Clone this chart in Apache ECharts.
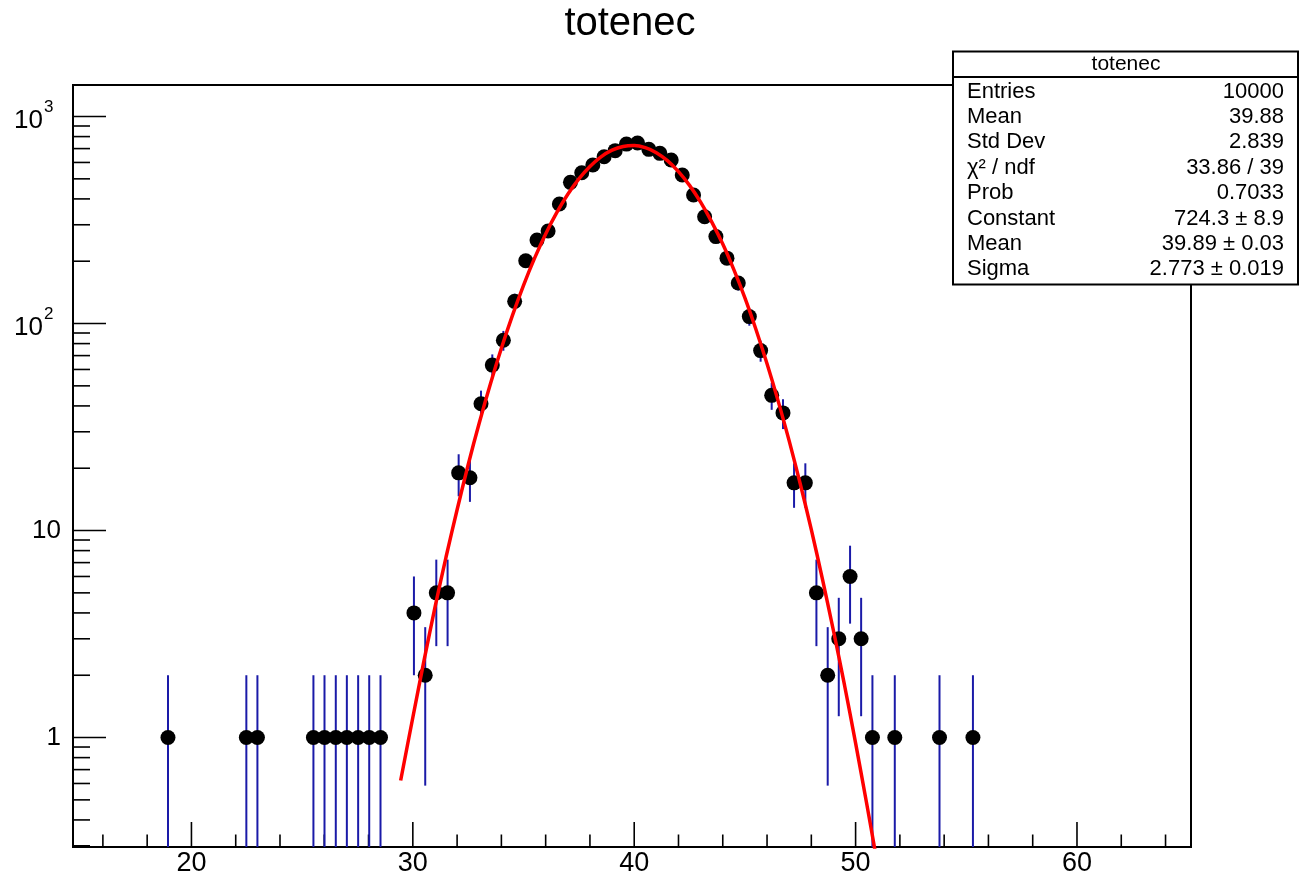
<!DOCTYPE html>
<html><head><meta charset="utf-8">
<script src="https://cdn.jsdelivr.net/npm/echarts@6/dist/echarts.min.js"></script>
<style>html,body{margin:0;padding:0;background:#fff}#c{width:1301px;height:889px}</style>
</head><body><div id="c"></div>
<script>
// ---- axis ranges ----
const xMin = 14.65, xMax = 65.15;
const yMin = 0.296, yMax = 1420;

// ---- histogram (bin centres, counts) ----
const binCenters = [18.94, 22.48, 22.98, 25.51, 26.01, 26.52, 27.02, 27.53, 28.03, 28.54,
  30.05, 30.56, 31.06, 31.57, 32.07, 32.58, 33.08, 33.59, 34.09, 34.60,
  35.10, 35.61, 36.11, 36.62, 37.12, 37.63, 38.13, 38.64, 39.14, 39.65,
  40.15, 40.66, 41.16, 41.67, 42.17, 42.68, 43.18, 43.69, 44.19, 44.70,
  45.20, 45.71, 46.21, 46.72, 47.22, 47.73, 48.23, 48.74, 49.24, 49.75,
  50.25, 50.76, 51.77, 53.79, 55.30];
const counts = [1, 1, 1, 1, 1, 1, 1, 1, 1, 1,
  4, 2, 5, 5, 19, 18, 41, 63, 83, 128,
  201, 253, 280, 378, 481, 535, 583, 639, 684, 736,
  745, 694, 664, 617, 522, 418, 328, 263, 207, 157,
  108, 74, 45, 37, 17, 17, 5, 2, 3, 6,
  3, 1, 1, 1, 1];

// ---- fitted gaussian curve ----
const fitX = [29.45, 30, 30.5, 31, 31.5, 32, 32.5, 33, 33.5, 34, 34.5, 35, 35.5, 36, 36.5, 37, 37.5, 38, 38.5, 39, 39.5,
  40, 40.5, 41, 41.5, 42, 42.5, 43, 43.5, 44, 44.5, 45, 45.5, 46, 46.5, 47, 47.5, 48, 48.5, 49, 49.5, 50, 50.5, 51];
const fitY = [0.62, 1.25, 2.34, 4.25, 7.45, 12.6, 20.8, 33.1, 50.9, 75.9, 109.5, 153, 207, 271, 343, 421, 500, 574, 639, 688, 717,
  724, 707, 669, 612, 542, 465, 386, 310, 242, 182, 133, 93.6, 63.9, 42.3, 27.1, 16.8, 10.1, 5.84, 3.28, 1.79, 0.94, 0.48, 0.24];

// ---- ticks ----
const xMajorTicks = [20, 30, 40, 50, 60];
const xMinorTicks = [16, 18, 22, 24, 26, 28, 32, 34, 36, 38, 42, 44, 46, 48, 52, 54, 56, 58, 62, 64];
const yMajorTicks = [1, 10, 100, 1000];
const yMajorBase = ['1', '10', '10', '10'];
const yMajorExp = ['', '', '2', '3'];
const yMinorTicks = [0.3, 0.4, 0.5, 0.6, 0.7, 0.8, 0.9, 2, 3, 4, 5, 6, 7, 8, 9,
  20, 30, 40, 50, 60, 70, 80, 90, 200, 300, 400, 500, 600, 700, 800, 900];

// ---- stats box ----
const chartTitle = 'totenec';
const statsName = 'totenec';
const statsLabels = ['Entries', 'Mean', 'Std Dev', 'χ² / ndf', 'Prob', 'Constant', 'Mean', 'Sigma'];
const statsValues = ['10000', '39.88', '2.839', '33.86 / 39', '0.7033', '724.3 ± 8.9', '39.89 ± 0.03', '2.773 ± 0.019'];

const FONT = '"Liberation Sans", Arial, Helvetica, sans-serif';
const chart = echarts.init(document.getElementById('c'), null, {renderer: 'canvas'});

const pts = binCenters.map((x, i) => [x, counts[i]]);
const xTickData = xMajorTicks.map((v, i) => [v, yMin, 1, i]).concat(xMinorTicks.map(v => [v, yMin, 0, -1]));
const yTickData = yMajorTicks.map((v, i) => [xMin, v, 1, i]).concat(yMinorTicks.map(v => [xMin, v, 0, -1]));

const statsChildren = [
  {type: 'rect', shape: {x: 953, y: 51.5, width: 345, height: 233}, style: {fill: '#fff', stroke: '#000', lineWidth: 2}},
  {type: 'line', shape: {x1: 953, y1: 77, x2: 1298, y2: 77}, style: {stroke: '#000', lineWidth: 2}},
  {type: 'text', x: 1126, y: 64, style: {text: statsName, font: '21px ' + FONT, fill: '#000', textAlign: 'center', textVerticalAlign: 'middle'}}
];
statsLabels.forEach((l, i) => {
  const y = 91.5 + i * 25.4;
  statsChildren.push({type: 'text', x: 967, y: y, style: {text: l, font: '22px ' + FONT, fill: '#000', textAlign: 'left', textVerticalAlign: 'middle'}});
  statsChildren.push({type: 'text', x: 1284, y: y, style: {text: statsValues[i], font: '22px ' + FONT, fill: '#000', textAlign: 'right', textVerticalAlign: 'middle'}});
});

chart.setOption({
  animation: false,
  backgroundColor: '#fff',
  grid: {left: 73, top: 85, width: 1118, height: 762, show: true, borderColor: '#000', borderWidth: 2, containLabel: false},
  xAxis: {type: 'value', min: xMin, max: xMax, axisLine: {show: false}, axisTick: {show: false}, axisLabel: {show: false}, splitLine: {show: false}},
  yAxis: {type: 'log', logBase: 10, min: yMin, max: yMax, axisLine: {show: false}, axisTick: {show: false}, axisLabel: {show: false}, splitLine: {show: false}},
  graphic: [
    {type: 'text', x: 630, y: 24, z: 100, style: {text: chartTitle, font: '40px ' + FONT, fill: '#000', textAlign: 'center', textVerticalAlign: 'middle'}},
    {type: 'group', z: 100, children: statsChildren}
  ],
  series: [
    { // x ticks and labels
      type: 'custom', coordinateSystem: 'cartesian2d', z: 3, silent: true,
      data: xTickData,
      renderItem: function (params, api) {
        const p = api.coord([api.value(0), api.value(1)]);
        const major = api.value(2) === 1;
        const len = major ? 25 : 12.5;
        const children = [{type: 'line', shape: {x1: p[0], y1: p[1], x2: p[0], y2: p[1] - len}, style: {stroke: '#000', lineWidth: 1.6}}];
        if (major) {
          children.push({type: 'text', x: p[0], y: p[1] + 17, style: {text: String(xMajorTicks[api.value(3)]), font: '27px ' + FONT, fill: '#000', textAlign: 'center', textVerticalAlign: 'middle'}});
        }
        return {type: 'group', children: children};
      }
    },
    { // y ticks and labels
      type: 'custom', coordinateSystem: 'cartesian2d', z: 3, silent: true,
      data: yTickData,
      renderItem: function (params, api) {
        const p = api.coord([api.value(0), api.value(1)]);
        const major = api.value(2) === 1;
        const len = major ? 33 : 17;
        const children = [{type: 'line', shape: {x1: p[0], y1: p[1], x2: p[0] + len, y2: p[1]}, style: {stroke: '#000', lineWidth: 1.6}}];
        if (major) {
          const idx = api.value(3);
          const exp = yMajorExp[idx];
          if (exp) {
            children.push({type: 'text', x: p[0] - 30, y: p[1] + 4, style: {text: yMajorBase[idx], font: '26px ' + FONT, fill: '#000', textAlign: 'right', textVerticalAlign: 'middle'}});
            children.push({type: 'text', x: p[0] - 29, y: p[1] - 9, style: {text: exp, font: '17px ' + FONT, fill: '#000', textAlign: 'left', textVerticalAlign: 'middle'}});
          } else {
            children.push({type: 'text', x: p[0] - 12, y: p[1], style: {text: yMajorBase[idx], font: '26px ' + FONT, fill: '#000', textAlign: 'right', textVerticalAlign: 'middle'}});
          }
        }
        return {type: 'group', children: children};
      }
    },
    { // error bars
      type: 'custom', coordinateSystem: 'cartesian2d', z: 4, silent: true, clip: true,
      data: pts,
      renderItem: function (params, api) {
        const x = api.value(0), c = api.value(1);
        const e = Math.sqrt(c);
        const lo = Math.max(c - e, yMin), hi = c + e;
        const p1 = api.coord([x, lo]), p2 = api.coord([x, hi]);
        return {type: 'line', shape: {x1: p1[0], y1: p1[1], x2: p2[0], y2: p2[1]}, style: {stroke: '#1a1aa8', lineWidth: 2}};
      }
    },
    { // markers
      type: 'scatter', z: 5, silent: true, data: pts, symbol: 'circle', symbolSize: 15,
      itemStyle: {color: '#000', opacity: 1}
    },
    { // fit
      type: 'line', z: 6, silent: true, data: fitX.map((x, i) => [x, fitY[i]]),
      showSymbol: false, smooth: 0.3, clip: true,
      lineStyle: {color: '#ff0000', width: 3.5}
    }
  ]
});
</script>
</body></html>
